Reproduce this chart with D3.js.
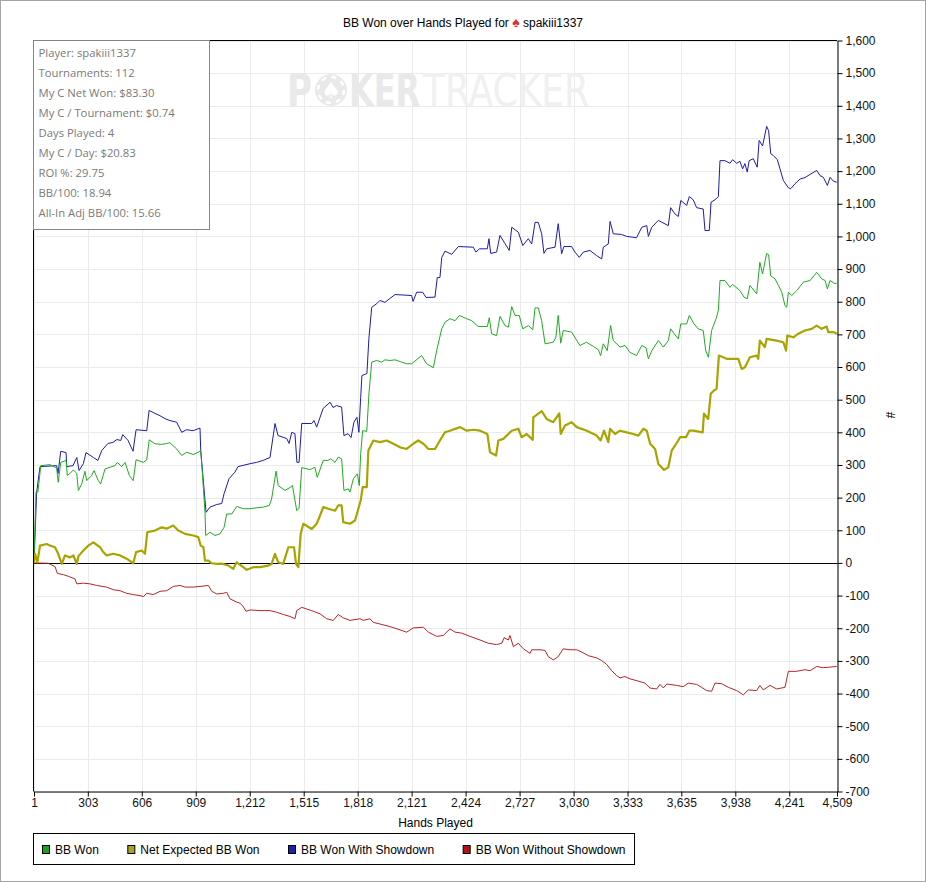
<!DOCTYPE html>
<html>
<head>
<meta charset="utf-8">
<script src="https://cdn.jsdelivr.net/npm/d3@7"></script>
<style>
    body { margin: 0; background: #fff; }
    svg { display: block; font-family: "Liberation Sans", Arial, sans-serif; }
</style>
</head>
<body>
<div id="chart"></div>
<script>
/**
 * Data
 *  */

var xTicks = [1, 303, 606, 909, 1212, 1515, 1818, 2121, 2424, 2727, 3030, 3333, 3635, 3938, 4241, 4509];
var yTicks = [-700, -600, -500, -400, -300, -200, -100, 0, 100, 200, 300, 400, 500, 600, 700, 800,
    900, 1000, 1100, 1200, 1300, 1400, 1500, 1600];

var seriesNames = ["BB Won", "Net Expected BB Won", "BB Won With Showdown", "BB Won Without Showdown"];

var statsLines = ["Player: spakiii1337", "Tournaments: 112", "My C Net Won: $83.30", "My C / Tournament: $0.74",
    "Days Played: 4", "My C / Day: $20.83", "ROI %: 29.75", "BB/100: 18.94", "All-In Adj BB/100: 15.66"];

// [hand, BB]
var bbWon = [[1, 0], [12, 217], [23, 217], [39, 298], [91, 301], [128, 291], [137, 247], [151, 308], [181, 314],
    [188, 268], [203, 274], [222, 285], [241, 274], [250, 222], [269, 242], [287, 281], [297, 252], [325, 268],
    [338, 283], [362, 252], [375, 242], [400, 288], [428, 293], [456, 298], [469, 308], [493, 295], [512, 308],
    [536, 268], [558, 252], [574, 316], [615, 308], [634, 316], [648, 377], [680, 365], [718, 363], [746, 366],
    [764, 368], [802, 349], [830, 329], [858, 339], [895, 332], [923, 339], [937, 344], [948, 262], [961, 155],
    [965, 84], [989, 94], [1017, 84], [1045, 89], [1068, 109], [1083, 150], [1111, 150], [1139, 173], [1176, 166],
    [1214, 166], [1251, 169], [1288, 171], [1322, 176], [1335, 196], [1360, 281], [1372, 237], [1410, 222],
    [1438, 231], [1452, 237], [1476, 160], [1489, 167], [1504, 292], [1550, 286], [1578, 293], [1591, 262],
    [1625, 314], [1651, 314], [1667, 319], [1691, 308], [1709, 324], [1728, 319], [1741, 222], [1765, 227],
    [1775, 217], [1794, 258], [1816, 273], [1827, 237], [1835, 334], [1846, 405], [1869, 403], [1882, 523],
    [1897, 615], [1925, 620], [1953, 615], [1971, 622], [1999, 620], [2028, 622], [2065, 615], [2093, 610],
    [2121, 610], [2177, 635], [2205, 610], [2243, 598], [2262, 651], [2290, 717], [2308, 737], [2336, 748],
    [2365, 742], [2389, 758], [2430, 748], [2458, 742], [2495, 724], [2546, 724], [2557, 751], [2570, 702],
    [2598, 696], [2617, 755], [2645, 727], [2664, 722], [2683, 785], [2701, 758], [2725, 758], [2745, 717],
    [2776, 727], [2801, 714], [2814, 781], [2832, 781], [2851, 742], [2870, 671], [2916, 676], [2931, 691],
    [2944, 758], [2958, 673], [2972, 712], [3019, 707], [3043, 686], [3066, 666], [3103, 676], [3141, 663],
    [3169, 653], [3182, 635], [3197, 671], [3219, 650], [3238, 727], [3253, 681], [3291, 661], [3319, 666],
    [3346, 645], [3384, 635], [3413, 666], [3437, 659], [3450, 625], [3469, 650], [3506, 681], [3534, 661],
    [3562, 681], [3575, 717], [3599, 699], [3618, 686], [3632, 732], [3665, 732], [3680, 758], [3706, 732],
    [3730, 717], [3758, 712], [3772, 650], [3787, 630], [3805, 712], [3830, 748], [3843, 773], [3852, 865],
    [3880, 865], [3908, 844], [3923, 853], [3964, 834], [3987, 814], [4005, 809], [4020, 850], [4058, 824],
    [4076, 921], [4091, 885], [4114, 948], [4125, 944], [4137, 879], [4161, 870], [4180, 850], [4199, 829],
    [4217, 788], [4227, 783], [4236, 829], [4255, 819], [4283, 834], [4320, 860], [4358, 865], [4395, 890],
    [4423, 870], [4442, 865], [4455, 839], [4470, 865], [4498, 855], [4508, 857]];

var netExpected = [[1, 0], [7, 28], [20, 2], [35, 53], [72, 58], [91, 53], [119, 48], [137, 28], [157, -3],
    [175, 23], [203, 17], [222, 23], [241, -3], [250, 20], [278, 38], [306, 53], [334, 63], [372, 48], [390, 33],
    [409, 23], [446, 28], [484, 23], [521, 13], [558, -1], [574, 33], [606, 38], [624, 28], [637, 94], [680, 99],
    [718, 109], [746, 105], [783, 115], [811, 99], [849, 89], [895, 84], [923, 79], [937, 53], [952, 48],
    [961, 7], [980, 7], [999, -1], [1027, -3], [1055, -2], [1092, -8], [1120, -18], [1139, 2], [1176, -13],
    [1195, -21], [1232, -13], [1270, -13], [1316, -8], [1335, -3], [1354, 28], [1372, 2], [1400, -3],
    [1429, 48], [1461, 48], [1472, -3], [1485, -13], [1498, 89], [1513, 120], [1560, 104], [1588, 120],
    [1603, 140], [1625, 171], [1653, 166], [1691, 160], [1709, 176], [1728, 176], [1737, 125], [1775, 120],
    [1803, 130], [1822, 166], [1835, 191], [1846, 232], [1869, 232], [1878, 344], [1906, 375], [1943, 370],
    [1981, 375], [2018, 365], [2056, 354], [2093, 349], [2130, 365], [2158, 375], [2187, 365], [2215, 349],
    [2252, 349], [2280, 375], [2308, 400], [2336, 405], [2393, 416], [2430, 405], [2467, 408], [2505, 405],
    [2546, 395], [2561, 339], [2595, 329], [2608, 375], [2636, 380], [2664, 395], [2683, 405], [2720, 411],
    [2739, 385], [2767, 395], [2801, 377], [2804, 446], [2851, 465], [2879, 441], [2916, 431], [2950, 458],
    [2958, 395], [2982, 421], [3019, 431], [3048, 416], [3104, 405], [3160, 390], [3182, 375], [3201, 405],
    [3225, 370], [3235, 411], [3263, 395], [3291, 405], [3328, 400], [3366, 395], [3394, 390], [3422, 411],
    [3441, 405], [3460, 365], [3488, 349], [3506, 303], [3538, 285], [3562, 293], [3581, 344], [3618, 375],
    [3628, 385], [3661, 385], [3680, 405], [3702, 405], [3755, 400], [3762, 457], [3786, 441], [3800, 518],
    [3818, 528], [3833, 533], [3846, 635], [3890, 625], [3918, 625], [3955, 625], [3974, 594], [3992, 599],
    [4020, 630], [4058, 635], [4067, 625], [4076, 681], [4104, 661], [4114, 686], [4170, 681], [4208, 676],
    [4223, 650], [4230, 696], [4264, 691], [4292, 702], [4329, 712], [4367, 717], [4395, 727], [4423, 717],
    [4451, 724], [4460, 707], [4488, 707], [4508, 702]];

var withShowdown = [[1, 0], [16, 217], [35, 295], [128, 298], [136, 274], [151, 342], [181, 338], [185, 295],
    [220, 298], [241, 323], [254, 283], [278, 304], [293, 338], [334, 323], [360, 314], [381, 344], [416, 366],
    [444, 369], [467, 378], [488, 375], [499, 393], [529, 375], [557, 342], [574, 408], [634, 405], [647, 467],
    [680, 458], [708, 451], [736, 442], [764, 436], [802, 431], [830, 400], [858, 408], [894, 405], [933, 413],
    [937, 344], [950, 262], [967, 155], [989, 171], [1027, 179], [1055, 182], [1068, 212], [1096, 258],
    [1129, 278], [1146, 295], [1214, 304], [1251, 308], [1287, 314], [1326, 323], [1354, 427], [1371, 390],
    [1420, 381], [1433, 366], [1448, 400], [1466, 396], [1477, 308], [1489, 308], [1504, 427], [1560, 427],
    [1573, 436], [1588, 416], [1607, 446], [1624, 473], [1663, 492], [1680, 476], [1700, 482], [1728, 477],
    [1741, 390], [1764, 396], [1781, 384], [1797, 431], [1814, 446], [1825, 400], [1835, 507], [1842, 574],
    [1870, 580], [1881, 687], [1897, 783], [1925, 794], [1943, 804], [1971, 798], [1999, 810], [2028, 822],
    [2121, 819], [2129, 801], [2149, 829], [2183, 829], [2202, 813], [2252, 814], [2265, 874], [2280, 874],
    [2290, 935], [2308, 955], [2346, 945], [2383, 969], [2467, 967], [2482, 952], [2501, 962], [2546, 962],
    [2555, 993], [2565, 948], [2598, 952], [2617, 1003], [2645, 978], [2669, 957], [2683, 1028], [2720, 1013],
    [2745, 972], [2776, 993], [2795, 977], [2814, 1043], [2832, 1043], [2851, 1008], [2864, 948], [2879, 962],
    [2926, 967], [2944, 1039], [2963, 947], [2976, 969], [3019, 969], [3038, 952], [3062, 936], [3085, 952],
    [3122, 957], [3160, 941], [3188, 931], [3197, 967], [3225, 977], [3235, 1046], [3253, 1008], [3300, 1006],
    [3328, 1000], [3384, 996], [3413, 1028], [3441, 1033], [3450, 1000], [3469, 1028], [3506, 1049],
    [3562, 1033], [3575, 1088], [3599, 1069], [3618, 1061], [3632, 1110], [3665, 1095], [3680, 1122],
    [3702, 1112], [3721, 1088], [3758, 1084], [3768, 1018], [3792, 1018], [3802, 1105], [3824, 1112],
    [3843, 1122], [3852, 1232], [3880, 1232], [3908, 1224], [3923, 1235], [3946, 1224], [3964, 1230],
    [3979, 1207], [3992, 1223], [4005, 1197], [4016, 1232], [4039, 1238], [4061, 1212], [4072, 1294],
    [4091, 1277], [4114, 1337], [4125, 1324], [4137, 1253], [4151, 1248], [4174, 1235], [4189, 1207],
    [4208, 1171], [4236, 1149], [4249, 1146], [4273, 1161], [4302, 1176], [4329, 1180], [4358, 1190],
    [4395, 1202], [4414, 1186], [4432, 1181], [4455, 1156], [4470, 1181], [4489, 1169], [4508, 1166]];

var withoutShowdown = [[1, 0], [81, -1], [95, -5], [119, -11], [132, -32], [166, -36], [194, -41], [231, -49],
    [241, -64], [278, -62], [315, -64], [353, -69], [409, -74], [446, -82], [484, -85], [521, -93], [558, -97],
    [596, -100], [615, -103], [634, -93], [671, -97], [708, -87], [746, -85], [783, -72], [821, -69], [849, -74],
    [895, -74], [933, -72], [980, -69], [999, -87], [1027, -95], [1064, -93], [1083, -90], [1101, -110],
    [1139, -120], [1157, -123], [1176, -134], [1191, -148], [1214, -144], [1270, -146], [1326, -146],
    [1363, -151], [1401, -158], [1438, -164], [1466, -171], [1476, -146], [1504, -136], [1532, -141],
    [1569, -148], [1607, -156], [1644, -171], [1681, -176], [1709, -158], [1737, -168], [1775, -176],
    [1831, -171], [1850, -176], [1887, -171], [1906, -182], [1943, -187], [1999, -195], [2056, -205],
    [2093, -212], [2130, -199], [2187, -197], [2215, -212], [2262, -225], [2299, -222], [2336, -202],
    [2365, -212], [2402, -215], [2449, -225], [2505, -236], [2552, -246], [2598, -250], [2627, -246],
    [2640, -229], [2664, -236], [2673, -222], [2692, -256], [2720, -246], [2748, -263], [2786, -277],
    [2795, -266], [2842, -266], [2870, -268], [2888, -287], [2916, -297], [2944, -287], [2972, -263],
    [3010, -266], [3048, -266], [3076, -273], [3113, -284], [3160, -291], [3188, -299], [3216, -311],
    [3244, -330], [3272, -345], [3291, -352], [3319, -348], [3347, -355], [3394, -362], [3431, -368],
    [3459, -383], [3497, -386], [3515, -372], [3534, -383], [3553, -371], [3609, -375], [3646, -379],
    [3674, -368], [3721, -372], [3749, -381], [3777, -391], [3805, -393], [3824, -368], [3862, -370],
    [3899, -381], [3946, -391], [3983, -404], [4011, -389], [4058, -391], [4076, -375], [4095, -389],
    [4133, -375], [4170, -386], [4217, -381], [4236, -332], [4282, -332], [4329, -327], [4358, -330],
    [4395, -317], [4432, -321], [4470, -319], [4508, -317]];

/**
 * Draw
 *  */

drawGraph();

function drawGraph() {
    var width = 926,
        height = 882;

    var plot = { left: 34, right: 837, top: 40.5, bottom: 791.5 };

    var lineColors = ["#22aa22", "#a8a400", "#1c1cac", "#b82525"];
    var legendColors = ["#1f9f1f", "#a9a320", "#1f1fb0", "#b01414"];
    var lineWidths = [1, 2.2, 1, 1];
    var seriesData = [bbWon, netExpected, withShowdown, withoutShowdown];

    var fmt = function (d) {
        return d3.format(",")(d).replace("\u2212", "-");
    };

    var svg = d3.select("#chart").append("svg")
        .attr("width", width)
        .attr("height", height);

    svg.append("rect")
        .attr("x", 0.5).attr("y", 0.5)
        .attr("width", width - 1).attr("height", height - 1)
        .attr("fill", "#fff")
        .attr("stroke", "#a5a5a5");

    var x = d3.scaleLinear()
        .domain([1, 4509])
        .range([plot.left, plot.right]);
    var y = d3.scaleLinear()
        .domain([-700, 1600])
        .range([plot.bottom, plot.top]);

    // grid
    svg.append("g").selectAll("line")
        .data(xTicks)
        .enter().append("line")
        .attr("x1", function (d) { return Math.round(x(d)) + 0.5; })
        .attr("x2", function (d) { return Math.round(x(d)) + 0.5; })
        .attr("y1", plot.top)
        .attr("y2", plot.bottom)
        .attr("stroke", "#ebebeb");

    svg.append("g").selectAll("line")
        .data(yTicks)
        .enter().append("line")
        .attr("x1", plot.left)
        .attr("x2", plot.right)
        .attr("y1", function (d) { return Math.round(y(d)) + 0.5; })
        .attr("y2", function (d) { return Math.round(y(d)) + 0.5; })
        .attr("stroke", "#ebebeb");

    // watermark, the O is a chip; each word squeezed to its box
    var wm = svg.append("g").attr("font-family", "DejaVu Sans").attr("font-size", 44);
    wm.append("circle").attr("cx", 331).attr("cy", 90).attr("r", 16).attr("fill", "#e9e9e9");
    wm.append("circle").attr("cx", 331).attr("cy", 90).attr("r", 13)
        .attr("fill", "none").attr("stroke", "#fff").attr("stroke-width", 2.5)
        .attr("stroke-dasharray", "5,5.2");
    wm.append("text").attr("x", 331).attr("y", 98).attr("text-anchor", "middle")
        .attr("font-size", 22).attr("fill", "#fff").text("\u2660");

    [["P", 287, 25, "bold", "#e9e9e9"], ["KER", 349, 71, "bold", "#e9e9e9"], ["TRACKER", 423, 166, "normal", "#f0f0f0"]]
        .forEach(function (w) {
            var t = wm.append("text")
                .attr("font-weight", w[3])
                .attr("fill", w[4])
                .text(w[0]);
            var k = w[2] / t.node().getComputedTextLength();
            t.attr("transform", "translate(" + w[1] + ",106) scale(" + k + ",1)");
        });

    // zero line
    svg.append("line")
        .attr("x1", plot.left).attr("x2", plot.right)
        .attr("y1", Math.round(y(0)) + 0.5).attr("y2", Math.round(y(0)) + 0.5)
        .attr("stroke", "#000");

    // series
    var line = d3.line()
        .x(function (d) { return x(d[0]); })
        .y(function (d) { return y(d[1]); });

    [3, 2, 0, 1].forEach(function (i) {
        svg.append("path")
            .datum(seriesData[i])
            .attr("d", line)
            .attr("fill", "none")
            .attr("stroke", lineColors[i])
            .attr("stroke-width", lineWidths[i])
            .attr("stroke-linejoin", "round");
    });

    // frame
    svg.append("line")
        .attr("x1", plot.left).attr("x2", plot.right)
        .attr("y1", plot.top).attr("y2", plot.top)
        .attr("stroke", "#000");
    svg.append("line")
        .attr("x1", plot.left - 0.5).attr("x2", plot.left - 0.5)
        .attr("y1", plot.top).attr("y2", plot.bottom)
        .attr("stroke", "#000");

    svg.append("g")
        .attr("transform", "translate(0," + plot.bottom + ")")
        .call(d3.axisBottom(x).tickValues(xTicks).tickFormat(fmt).tickSize(5).tickSizeOuter(0).tickPadding(2));
    svg.append("g")
        .attr("transform", "translate(" + (plot.right + 0.5) + ",0)")
        .call(d3.axisRight(y).tickValues(yTicks).tickFormat(fmt).tickSize(5).tickSizeOuter(0).tickPadding(3));

    svg.selectAll(".tick text")
        .attr("font-family", "Liberation Sans, Arial, sans-serif")
        .attr("font-size", "12px")
        .attr("fill", "#111");
    svg.selectAll(".domain, .tick line").attr("stroke", "#000");

    svg.append("text")
        .attr("x", (plot.left + plot.right) / 2)
        .attr("y", 827)
        .attr("text-anchor", "middle")
        .attr("font-size", "12px")
        .text("Hands Played");

    svg.append("text")
        .attr("transform", "translate(886,415) rotate(90)")
        .attr("text-anchor", "middle")
        .attr("font-size", "12px")
        .text("#");

    // title
    var title = svg.append("text")
        .attr("x", 463)
        .attr("y", 27)
        .attr("text-anchor", "middle")
        .attr("font-size", "12px");
    title.append("tspan").text("BB Won over Hands Played for ");
    title.append("tspan").attr("fill", "#e0302a").attr("font-size", "14px").text("\u2660");
    title.append("tspan").text(" spakiii1337");

    // stats box
    svg.append("rect")
        .attr("x", 33.5).attr("y", 40.5)
        .attr("width", 176).attr("height", 189)
        .attr("fill", "#fff")
        .attr("stroke", "#858585");

    svg.append("g").selectAll("text")
        .data(statsLines)
        .enter().append("text")
        .attr("x", 38.5)
        .attr("y", function (d, i) { return 57 + i * 20; })
        .attr("font-family", "Open Sans")
        .attr("font-size", "11.3px")
        .attr("fill", "#7a7a7a")
        .text(function (d) { return d; });

    // legend
    var legend = svg.append("g");
    var legendBox = legend.append("rect")
        .attr("x", 33.5).attr("y", 833.5)
        .attr("height", 31)
        .attr("fill", "#fff")
        .attr("stroke", "#000");

    var cursor = 42.5;
    seriesNames.forEach(function (name, i) {
        legend.append("rect")
            .attr("x", cursor).attr("y", 845.5)
            .attr("width", 7).attr("height", 8)
            .attr("fill", legendColors[i])
            .attr("stroke", "#000");
        var t = legend.append("text")
            .attr("x", cursor + 12.5)
            .attr("y", 854)
            .attr("font-size", "12px")
            .text(name);
        cursor = cursor + 12.5 + t.node().getComputedTextLength() + 29;
    });
    legendBox.attr("width", cursor - 29 + 9 - 33.5);
}
</script>
</body>
</html>
